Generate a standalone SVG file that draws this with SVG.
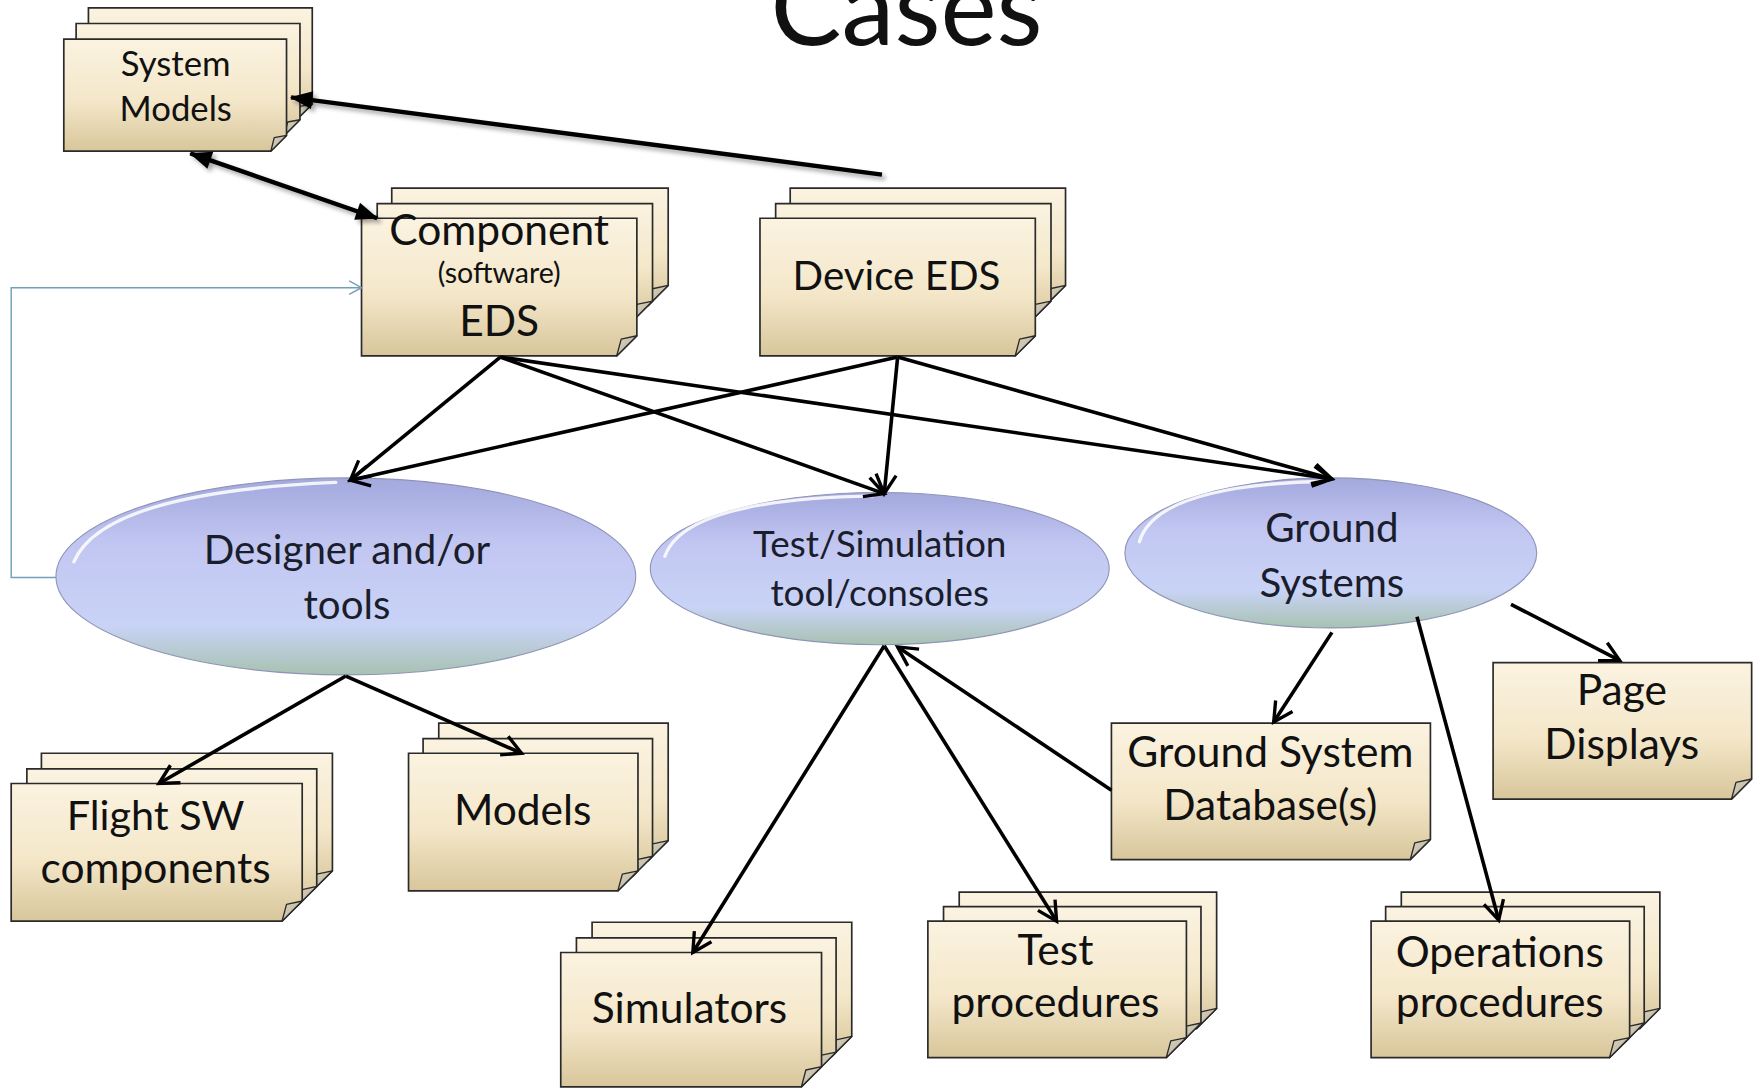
<svg xmlns="http://www.w3.org/2000/svg" width="1755" height="1089" viewBox="0 0 1755 1089">
<defs>
<linearGradient id="paper" x1="0" y1="0" x2="0" y2="1">
<stop offset="0" stop-color="#FBF3E1"/>
<stop offset="0.55" stop-color="#F4E7C9"/>
<stop offset="1" stop-color="#D8C69B"/>
</linearGradient>
<linearGradient id="flap" x1="0" y1="0" x2="1" y2="1">
<stop offset="0" stop-color="#D9D2BE"/>
<stop offset="1" stop-color="#B8B09A"/>
</linearGradient>
<linearGradient id="oval" x1="0" y1="0" x2="0" y2="1">
<stop offset="0" stop-color="#A3A8DE"/>
<stop offset="0.35" stop-color="#C2C7F2"/>
<stop offset="0.75" stop-color="#C9D3F6"/>
<stop offset="1" stop-color="#A7C2B1"/>
</linearGradient>
<filter id="sh" x="-10%" y="-10%" width="130%" height="140%">
<feDropShadow dx="3" dy="3" stdDeviation="2" flood-color="#000" flood-opacity="0.35"/>
</filter>
<marker id="open" markerUnits="userSpaceOnUse" markerWidth="24" markerHeight="24" viewBox="0 0 24 24" refX="20" refY="12" orient="auto">
<path d="M3,3 L20,12 L3,21" fill="none" stroke="#000" stroke-width="3"/>
</marker>
<marker id="solid" markerUnits="userSpaceOnUse" markerWidth="24" markerHeight="24" viewBox="0 0 24 24" refX="20" refY="12" orient="auto-start-reverse">
<path d="M1,4 L21,12 L1,20 Z" fill="#000"/>
</marker>
<marker id="thin" markerUnits="userSpaceOnUse" markerWidth="16" markerHeight="16" viewBox="0 0 16 16" refX="14" refY="8" orient="auto">
<path d="M3,2 L14,8 L3,14" fill="none" stroke="#73A0B8" stroke-width="1.3"/>
</marker>
</defs>
<style>
.pg{fill:url(#paper);stroke:#2a2a2a;stroke-width:1.5;stroke-linejoin:miter}
.fl{fill:url(#flap);stroke:#2a2a2a;stroke-width:1.2;stroke-linejoin:round}
.ov{fill:url(#oval);stroke:#8F94B8;stroke-width:1}
.hl{fill:none;stroke:#FFFFFF;stroke-width:3;stroke-opacity:0.85;stroke-linecap:round}
.t{font-family:Lato,"Open Sans",sans-serif;fill:#111;text-anchor:middle}
.to{font-family:Lato,"Open Sans",sans-serif;fill:#1A1D2B;text-anchor:middle}
.c{fill:none;stroke:#000;stroke-width:3.2;marker-end:url(#open)}
.cs{fill:none;stroke:#000;stroke-width:4;filter:url(#sh)}
</style>
<g transform="scale(1.11926)">
<text class="t" x="810" y="40" font-size="95">Cases</text>

<g id="system-models">
<path class="pg" d="M79,7 H279 V93 L265,107 H79 Z"/><path class="fl" d="M265,107 L279,93 L268,95 Z"/>
<path class="pg" d="M68,21 H268 V107 L254,121 H68 Z"/><path class="fl" d="M254,121 L268,107 L257,109 Z"/>
<path class="pg" d="M57,35 H256 V121 L242,135 H57 Z"/><path class="fl" d="M242,135 L256,121 L245,123 Z"/>
<text class="t" x="157" y="68" font-size="31">System</text>
<text class="t" x="157" y="108" font-size="31">Models</text>
</g>

<g id="component-eds">
<path class="pg" d="M350,168 H597 V255 L579,273 H350 Z"/><path class="fl" d="M579,273 L597,255 L583,258 Z"/>
<path class="pg" d="M337,182 H583 V269 L565,287 H337 Z"/><path class="fl" d="M565,287 L583,269 L569,272 Z"/>
<path class="pg" d="M323,195 H569 V300 L551,318 H323 Z"/><path class="fl" d="M551,318 L569,300 L555,303 Z"/>
<text class="t" x="446" y="219" font-size="38">Component</text>
<text class="t" x="446" y="253" font-size="25.5">(software)</text>
<text class="t" x="446" y="300" font-size="38">EDS</text>
</g>

<g id="device-eds">
<path class="pg" d="M706,168 H952 V255 L934,273 H706 Z"/><path class="fl" d="M934,273 L952,255 L938,258 Z"/>
<path class="pg" d="M693,182 H939 V269 L921,287 H693 Z"/><path class="fl" d="M921,287 L939,269 L925,272 Z"/>
<path class="pg" d="M679,195 H925 V300 L907,318 H679 Z"/><path class="fl" d="M907,318 L925,300 L911,303 Z"/>
<text class="t" x="801" y="259" font-size="36">Device EDS</text>
</g>

<g id="designer-tools">
<ellipse class="ov" cx="309" cy="515" rx="259" ry="88"/>
<path class="hl" d="M66,502 Q92,440 300,431"/>
<text class="to" x="310" y="504" font-size="36">Designer and/or</text>
<text class="to" x="310" y="553" font-size="36">tools</text>
</g>

<g id="test-simulation">
<ellipse class="ov" cx="786" cy="508" rx="205" ry="68"/>
<path class="hl" d="M594,497 Q612,446 780,443"/>
<text class="to" x="786" y="498" font-size="33">Test/Simulation</text>
<text class="to" x="786" y="541" font-size="33">tool/consoles</text>
</g>

<g id="ground-systems">
<ellipse class="ov" cx="1189" cy="494" rx="184" ry="67"/>
<path class="hl" d="M1018,484 Q1033,433 1185,430"/>
<text class="to" x="1190" y="484" font-size="36">Ground</text>
<text class="to" x="1190" y="533" font-size="36">Systems</text>
</g>

<g id="flight-sw">
<path class="pg" d="M37,673 H297 V778 L279,796 H37 Z"/><path class="fl" d="M279,796 L297,778 L283,781 Z"/>
<path class="pg" d="M24,687 H283 V792 L265,810 H24 Z"/><path class="fl" d="M265,810 L283,792 L269,795 Z"/>
<path class="pg" d="M10,700 H270 V805 L252,823 H10 Z"/><path class="fl" d="M252,823 L270,805 L256,808 Z"/>
<text class="t" x="139" y="742" font-size="37">Flight SW</text>
<text class="t" x="139" y="789" font-size="38">components</text>
</g>

<g id="models">
<path class="pg" d="M392,646 H597 V751 L579,769 H392 Z"/><path class="fl" d="M579,769 L597,751 L583,754 Z"/>
<path class="pg" d="M378,660 H583 V765 L565,783 H378 Z"/><path class="fl" d="M565,783 L583,765 L569,768 Z"/>
<path class="pg" d="M365,673 H570 V778 L552,796 H365 Z"/><path class="fl" d="M552,796 L570,778 L556,781 Z"/>
<text class="t" x="467" y="737" font-size="38">Models</text>
</g>

<g id="simulators">
<path class="pg" d="M529,824 H761 V926 L743,944 H529 Z"/><path class="fl" d="M743,944 L761,926 L747,929 Z"/>
<path class="pg" d="M515,838 H747 V940 L729,958 H515 Z"/><path class="fl" d="M729,958 L747,940 L733,943 Z"/>
<path class="pg" d="M501,851 H734 V953 L716,971 H501 Z"/><path class="fl" d="M716,971 L734,953 L720,956 Z"/>
<text class="t" x="616" y="914" font-size="38">Simulators</text>
</g>

<g id="test-procedures">
<path class="pg" d="M857,797 H1087 V901 L1069,919 H857 Z"/><path class="fl" d="M1069,919 L1087,901 L1073,904 Z"/>
<path class="pg" d="M843,810 H1073 V914 L1055,932 H843 Z"/><path class="fl" d="M1055,932 L1073,914 L1059,917 Z"/>
<path class="pg" d="M829,823 H1060 V927 L1042,945 H829 Z"/><path class="fl" d="M1042,945 L1060,927 L1046,930 Z"/>
<text class="t" x="943" y="862" font-size="38">Test</text>
<text class="t" x="943" y="909" font-size="38">procedures</text>
</g>

<g id="ground-system-database">
<path class="pg" d="M993,646 H1278 V750 L1260,768 H993 Z"/><path class="fl" d="M1260,768 L1278,750 L1264,753 Z"/>
<text class="t" x="1135" y="685" font-size="38">Ground System</text>
<text class="t" x="1135" y="733" font-size="38">Database(s)</text>
</g>

<g id="page-displays">
<path class="pg" d="M1334,592 H1565 V696 L1547,714 H1334 Z"/><path class="fl" d="M1547,714 L1565,696 L1551,699 Z"/>
<text class="t" x="1449" y="630" font-size="38">Page</text>
<text class="t" x="1449" y="678" font-size="38">Displays</text>
</g>

<g id="operations-procedures">
<path class="pg" d="M1252,797 H1483 V901 L1465,919 H1252 Z"/><path class="fl" d="M1465,919 L1483,901 L1469,904 Z"/>
<path class="pg" d="M1238,810 H1469 V914 L1451,932 H1238 Z"/><path class="fl" d="M1451,932 L1469,914 L1455,917 Z"/>
<path class="pg" d="M1225,823 H1456 V927 L1438,945 H1225 Z"/><path class="fl" d="M1438,945 L1456,927 L1442,930 Z"/>
<text class="t" x="1340" y="864" font-size="38">Operations</text>
<text class="t" x="1340" y="909" font-size="38">procedures</text>
</g>

<g id="connectors">
<path class="cs" d="M788,156 L260,87" marker-end="url(#solid)"/>
<path class="cs" d="M170,137 L337,195" marker-start="url(#solid)" marker-end="url(#solid)"/>
<path class="c" d="M447,319 L313,429"/>
<path class="c" d="M447,319 L790,441"/>
<path class="c" d="M447,319 L1190,428"/>
<path class="c" d="M802,319 L313,429"/>
<path class="c" d="M802,319 L790,441"/>
<path class="c" d="M802,319 L1190,428"/>
<path class="c" d="M309,604 L142,700"/>
<path class="c" d="M309,604 L466,673"/>
<path class="c" d="M790,577 L619,851"/>
<path class="c" d="M790,577 L944,823"/>
<path class="c" d="M993,706 L802,578"/>
<path class="c" d="M1190,565 L1138,645"/>
<path class="c" d="M1266,551 L1339,822"/>
<path class="c" d="M1350,540 L1447,590"/>
<path d="M50,516 H10 V257 H323" fill="none" stroke="#73A0B8" stroke-width="1.3" marker-end="url(#thin)"/>
</g>
</g>
</svg>
